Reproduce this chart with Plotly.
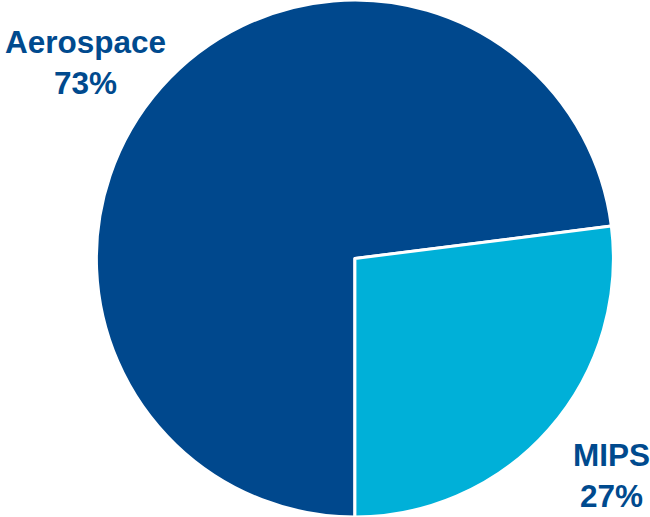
import plotly.graph_objects as go

# Revenue split by segment
segments = ["Aerospace", "MIPS"]
shares = [73, 27]
slice_colors = ["#00488D", "#00B0D8"]
label_color = "#004A8E"

fig = go.Figure(
    go.Pie(
        labels=segments,
        values=shares,
        sort=False,
        direction="clockwise",
        rotation=180,
        textinfo="none",
        hoverinfo="label+percent",
        marker=dict(colors=slice_colors, line=dict(color="white", width=3)),
        domain=dict(x=[0.146, 0.946], y=[0.0, 1.0]),
        showlegend=False,
    )
)

# Segment labels placed beside their slices
label_pos = {"Aerospace": (0.131, 0.880), "MIPS": (0.940, 0.081)}
for name, val in zip(segments, shares):
    x, y = label_pos[name]
    fig.add_annotation(
        x=x, y=y, xref="paper", yref="paper",
        text=f"<b>{name}<br>{val}%</b>",
        showarrow=False, align="center",
        font=dict(family="Liberation Sans, Arial, sans-serif", size=31.5, color=label_color),
        xanchor="center", yanchor="middle",
    )

fig.update_layout(
    width=650, height=517,
    margin=dict(l=0, r=0, t=0, b=0),
    paper_bgcolor="white", plot_bgcolor="white",
)

fig.write_html("out.html")
